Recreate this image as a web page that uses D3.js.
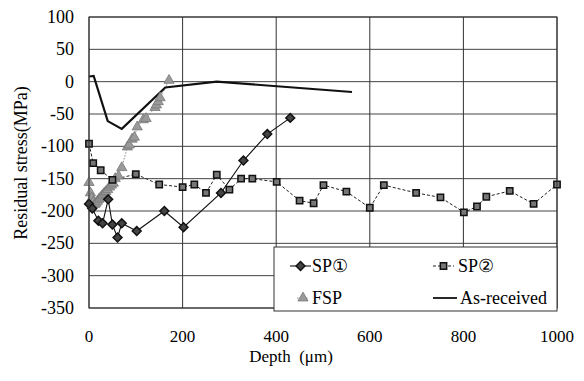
<!DOCTYPE html>
<html>
<head>
<meta charset="utf-8">
<script src="https://cdn.jsdelivr.net/npm/d3@7/dist/d3.min.js"></script>
<style>
  body { margin: 0; background: #fff; }
  text { font-family: "Liberation Serif", "Times New Roman", "DejaVu Serif", serif; }
</style>
</head>
<body>
<div id="chart"></div>
<script>
// depth in µm, residual stress in MPa
const sp1Depth = [0, 7, 20, 29, 41, 50, 61, 70, 102, 161, 202, 282, 330, 381, 430];
const sp1Stress = [-189, -196, -215, -219, -182, -221, -241, -219, -231, -200, -225, -172, -122, -81, -56];

const sp2Depth = [0, 9, 25, 50, 100, 150, 200, 225, 250, 273, 300, 325, 349, 401, 450, 480, 501, 550, 600, 630, 699, 751, 801, 829, 849, 899, 950, 1000];
const sp2Stress = [-96, -126, -137, -152, -143, -159, -163, -159, -172, -144, -167, -150, -150, -155, -184, -188, -160, -170, -195, -160, -172, -179, -202, -193, -178, -169, -189, -159];

const fspDepth = [0, 3, 6, 9, 12, 15, 18, 21, 24, 27, 30, 33, 36, 40, 44, 48, 52, 56, 63, 70, 82, 86, 92, 97, 103, 116, 122, 141, 144, 148, 152, 171];
const fspStress = [-156, -172, -180, -186, -190, -188, -185, -182, -180, -177, -175, -172, -170, -167, -163, -160, -157, -150, -146, -133, -101, -98, -89, -86, -70, -59, -57, -40, -36, -31, -25, 2];

const asDepth = [0, 10, 40, 70, 163, 273, 562];
const asStress = [8, 9, -61, -73, -9, 0, -16];

const yTicks = [100, 50, 0, -50, -100, -150, -200, -250, -300, -350];
const xTicks = [0, 200, 400, 600, 800, 1000];

const width = 584, height = 381;
const margin = { top: 17, right: 27, bottom: 73, left: 89 };
const serif = "'Liberation Serif', 'Times New Roman', 'DejaVu Serif', serif";

const svg = d3.select("#chart")
    .append("svg")
    .attr("width", width)
    .attr("height", height)
    .attr("font-family", serif);

const x = d3.scaleLinear().domain([0, 1000]).range([margin.left, width - margin.right]);
const y = d3.scaleLinear().domain([-350, 100]).range([height - margin.bottom, margin.top]);

// grid
svg.append("g")
    .selectAll("line")
    .data(yTicks)
    .join("line")
    .attr("x1", x(0)).attr("x2", x(1000))
    .attr("y1", d => y(d)).attr("y2", d => y(d))
    .attr("stroke", "#444")
    .attr("stroke-width", 1);

svg.append("g")
    .selectAll("line")
    .data(xTicks)
    .join("line")
    .attr("x1", d => x(d)).attr("x2", d => x(d))
    .attr("y1", y(100)).attr("y2", y(-350))
    .attr("stroke", "#333")
    .attr("stroke-width", 1);

// tick labels
svg.append("g")
    .selectAll("text")
    .data(yTicks)
    .join("text")
    .attr("x", margin.left - 15)
    .attr("y", d => y(d))
    .attr("text-anchor", "end")
    .attr("dominant-baseline", "central")
    .attr("font-family", serif)
    .style("font-size", "18px")
    .text(d => d);

svg.append("g")
    .selectAll("text")
    .data(xTicks)
    .join("text")
    .attr("x", d => x(d))
    .attr("y", 336)
    .attr("text-anchor", "middle")
    .attr("dominant-baseline", "central")
    .attr("font-family", serif)
    .style("font-size", "17px")
    .text(d => d);

// axis titles
svg.append("text")
    .attr("transform", "translate(21,163) rotate(-90)")
    .attr("text-anchor", "middle")
    .attr("dominant-baseline", "central")
    .attr("font-family", serif)
    .style("font-size", "18px")
    .text("Residual stress(MPa)");

svg.append("text")
    .attr("x", 291)
    .attr("y", 356)
    .attr("text-anchor", "middle")
    .attr("dominant-baseline", "central")
    .attr("font-family", serif)
    .style("font-size", "17px")
    .text("Depth\u00a0\u00a0(\u03bcm)");

const zip = (a, b) => a.map((d, i) => [d, b[i]]);
const line = d3.line().x(d => x(d[0])).y(d => y(d[1]));

const sp1 = zip(sp1Depth, sp1Stress);
const sp2 = zip(sp2Depth, sp2Stress);
const fsp = zip(fspDepth, fspStress);
const asr = zip(asDepth, asStress);

// lines
svg.append("path").datum(fsp).attr("d", line)
    .attr("fill", "none").attr("stroke", "#888").attr("stroke-width", 1)
    .attr("stroke-dasharray", "1.5,1.5");
svg.append("path").datum(sp2).attr("d", line)
    .attr("fill", "none").attr("stroke", "#222").attr("stroke-width", 1)
    .attr("stroke-dasharray", "3,2");
svg.append("path").datum(sp1).attr("d", line)
    .attr("fill", "none").attr("stroke", "#111").attr("stroke-width", 1.1);
svg.append("path").datum(asr).attr("d", line)
    .attr("fill", "none").attr("stroke", "#111").attr("stroke-width", 2.2);

// markers
const diamond = d3.symbol().type(d3.symbolDiamond2).size(50);
const square = d3.symbol().type(d3.symbolSquare).size(40);
const triangle = d3.symbol().type(d3.symbolTriangle).size(45);

svg.append("g").selectAll("path").data(fsp).join("path")
    .attr("d", triangle)
    .attr("transform", d => `translate(${x(d[0])},${y(d[1])})`)
    .attr("fill", "#9a9a9a").attr("stroke", "#777").attr("stroke-width", 0.8);

svg.append("g").selectAll("path").data(sp2).join("path")
    .attr("d", square)
    .attr("transform", d => `translate(${x(d[0])},${y(d[1])})`)
    .attr("fill", "#777").attr("stroke", "#111").attr("stroke-width", 1.5);

svg.append("g").selectAll("path").data(sp1).join("path")
    .attr("d", diamond)
    .attr("transform", d => `translate(${x(d[0])},${y(d[1])})`)
    .attr("fill", "#444").attr("stroke", "#111").attr("stroke-width", 1.5);

// plot frame
svg.append("rect")
    .attr("x", x(0)).attr("y", y(100))
    .attr("width", x(1000) - x(0)).attr("height", y(-350) - y(100))
    .attr("fill", "none").attr("stroke", "#333").attr("stroke-width", 1);

// legend
const legend = svg.append("g");
legend.append("rect")
    .attr("x", 274).attr("y", 247).attr("width", 283).attr("height", 64)
    .attr("fill", "#fff").attr("stroke", "#333").attr("stroke-width", 1);

const row1 = 266, row2 = 298;
const legendText = (tx, ty, s) => legend.append("text")
    .attr("x", tx).attr("y", ty).attr("dominant-baseline", "central")
    .attr("font-family", serif).style("font-size", "18px").text(s);

legend.append("line").attr("x1", 290).attr("x2", 311).attr("y1", row1).attr("y2", row1)
    .attr("stroke", "#111").attr("stroke-width", 1.1);
legend.append("path").attr("d", diamond).attr("transform", `translate(300.5,${row1})`)
    .attr("fill", "#444").attr("stroke", "#111").attr("stroke-width", 1.5);
legendText(312, row1, "SP\u2460");

legend.append("line").attr("x1", 433).attr("x2", 454).attr("y1", row1).attr("y2", row1)
    .attr("stroke", "#222").attr("stroke-width", 1).attr("stroke-dasharray", "3,2");
legend.append("path").attr("d", square).attr("transform", `translate(443.5,${row1})`)
    .attr("fill", "#777").attr("stroke", "#111").attr("stroke-width", 1.5);
legendText(458, row1, "SP\u2461");

legend.append("line").attr("x1", 297).attr("x2", 309).attr("y1", row2).attr("y2", row2)
    .attr("stroke", "#888").attr("stroke-width", 1).attr("stroke-dasharray", "1.5,1.5");
legend.append("path").attr("d", triangle).attr("transform", `translate(303,${row2})`)
    .attr("fill", "#9a9a9a").attr("stroke", "#777").attr("stroke-width", 0.8);
legendText(312, row2, "FSP");

legend.append("line").attr("x1", 433).attr("x2", 457).attr("y1", row2).attr("y2", row2)
    .attr("stroke", "#111").attr("stroke-width", 1.8);
legendText(460, row2, "As-received");
</script>
</body>
</html>
